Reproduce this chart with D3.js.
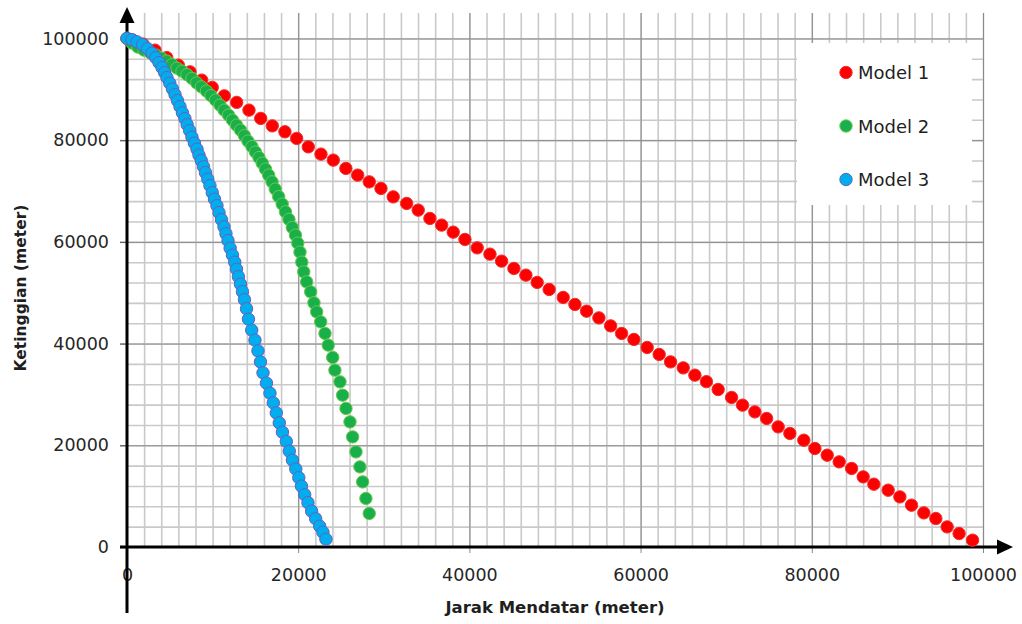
<!DOCTYPE html>
<html>
<head>
<meta charset="utf-8">
<script src="https://cdn.jsdelivr.net/npm/d3@7"></script>
<style>
	body { margin: 0; background: #fff; }
	svg text { font-family: "DejaVu Sans", sans-serif; }
</style>
</head>
<body>
<div id="chart"></div>
<script>
//series names and values (meter)
var seriesNames = ["Model 1", "Model 2", "Model 3"];

var model1X = [0, 700, 1870, 3270, 4640, 5990, 7360, 8730, 9960, 11360,
	12810, 14250, 15620, 16970, 18450, 19820, 21180, 22660, 24100, 25570,
	26950, 28300, 29670, 31100, 32670, 34020, 35390, 36760, 38110, 39480,
	40910, 42400, 43760, 45200, 46600, 47920, 49320, 50960, 52330, 53690,
	55130, 56500, 57780, 59220, 60770, 62170, 63500, 64980, 66340, 67690,
	69060, 70630, 71910, 73350, 74720, 76070, 77440, 79070, 80360, 81800,
	83200, 84650, 86000, 87250, 88920, 90290, 91650, 93090, 94490, 95810,
	97210, 98780];
var model1Y = [100000, 99600, 98880, 97700, 96230, 94750, 93430, 91800, 90370, 88710,
	87420, 85900, 84270, 82810, 81640, 80340, 78680, 77250, 76070, 74440,
	73120, 71800, 70500, 68850, 67550, 66240, 64600, 63290, 61910, 60470,
	58820, 57580, 56210, 54770, 53450, 52020, 50640, 49070, 47690, 46370,
	45050, 43480, 41990, 40810, 39230, 37860, 36400, 35220, 33790, 32510,
	30970, 29400, 27890, 26570, 25270, 23620, 22320, 21000, 19370, 18050,
	16740, 15440, 13790, 12350, 11170, 9850, 8220, 6710, 5600, 3950,
	2650, 1340];

var model2X = [0, 580, 1290, 1990, 2690, 3390, 4030, 4640, 5260, 5840,
	6420, 7010, 7590, 8140, 8700, 9290, 9810, 10340, 10860, 11350,
	11860, 12320, 12790, 13260, 13720, 14130, 14600, 15010, 15420, 15800,
	16180, 16550, 16940, 17320, 17720, 18130, 18510, 18920, 19310, 19680,
	19950, 20210, 20420, 20650, 20990, 21460, 21840, 22160, 22630, 23130,
	23510, 24030, 24290, 24880, 25190, 25580, 26050, 26360, 26750, 27210,
	27530, 27910, 28300];
var model2Y = [100000, 99100, 98290, 97700, 97210, 96720, 96130, 95540, 94850, 94160,
	93570, 92880, 92140, 91270, 90480, 89640, 88760, 87870, 86890, 85900,
	84920, 83940, 82950, 81970, 80890, 79810, 78720, 77640, 76560, 75480,
	74300, 73120, 71800, 70370, 68890, 67420, 65900, 64410, 62830, 61320,
	59750, 57980, 56010, 54100, 52130, 50170, 48010, 46230, 44270, 41990,
	39690, 37270, 34770, 32470, 29850, 27240, 24600, 21650, 18700, 15750,
	12800, 9540, 6590];

var model3X = [0, 580, 1170, 1810, 2390, 2920, 3350, 3740, 4090, 4400,
	4670, 5000, 5310, 5610, 5900, 6190, 6480, 6770, 7030, 7320,
	7590, 7880, 8180, 8410, 8680, 8940, 9170, 9440, 9690, 9960,
	10220, 10510, 10750, 11040, 11330, 11560, 11800, 12050, 12320, 12590,
	12790, 13020, 13260, 13490, 13720, 13960, 14190, 14570, 14950, 15300,
	15590, 15890, 16290, 16700, 17090, 17440, 17790, 18160, 18610, 18960,
	19330, 19720, 20070, 20380, 20760, 21140, 21570, 22040, 22510, 22890,
	23240];
var model3Y = [100000, 99770, 99330, 98780, 98000, 97110, 96230, 95240, 94260, 93280,
	92290, 91210, 90070, 88950, 87770, 86590, 85370, 84230, 83050, 81870,
	80590, 79410, 78230, 77050, 75970, 74790, 73610, 72330, 71050, 69680,
	68400, 67120, 65740, 64370, 62950, 61610, 60240, 58760, 57390, 56010,
	54630, 53160, 51680, 50210, 48640, 46860, 44800, 42640, 40670, 38570,
	36400, 34240, 32210, 30250, 28340, 26370, 24410, 22580, 20750, 18840,
	17070, 15340, 13630, 11960, 10290, 8710, 7040, 5570, 4090, 2910,
	1530];

var xTicks = [0, 20000, 40000, 60000, 80000, 100000];
var yTicks = [0, 20000, 40000, 60000, 80000, 100000];
var xTitle = "Jarak Mendatar (meter)";
var yTitle = "Ketinggian (meter)";

//define dimensions
var width = 1022, height = 624;
var margin = {top: 13, right: 39, bottom: 77, left: 127};
var plotW = width - margin.left - margin.right;
var plotH = height - margin.top - margin.bottom;

var colors = [
	{fill: "#ff0000", stroke: "#f03030"},
	{fill: "#19b04b", stroke: "#6cc84a"},
	{fill: "#00aeef", stroke: "#6a5fb8"}
];

var series = [
	{name: seriesNames[0], xs: model1X, ys: model1Y},
	{name: seriesNames[1], xs: model2X, ys: model2Y},
	{name: seriesNames[2], xs: model3X, ys: model3Y}
];

var svg = d3.select("#chart").append("svg")
	.attr("width", width)
	.attr("height", height);

var x = d3.scaleLinear().domain([0, 100000]).range([margin.left, margin.left + plotW]);
var y = d3.scaleLinear().domain([0, 105000]).range([margin.top + plotH, margin.top]);

//gridlines: minor first, then major
function grid(axis, cls, color, w) {
	var g = svg.append("g").attr("class", cls);
	g.call(axis);
	g.select(".domain").remove();
	g.selectAll("line").attr("stroke", color).attr("stroke-width", w);
	return g;
}

grid(d3.axisBottom(x).tickValues(d3.range(2000, 100001, 2000)).tickSize(-plotH).tickFormat(""),
	"grid-x-minor", "#c9c9c9", 1.6)
	.attr("transform", "translate(0," + y(0) + ")");
grid(d3.axisLeft(y).tickValues(d3.range(4000, 100001, 4000)).tickSize(-plotW).tickFormat(""),
	"grid-y-minor", "#c9c9c9", 1.6)
	.attr("transform", "translate(" + x(0) + ",0)");
grid(d3.axisBottom(x).tickValues(xTicks.slice(1)).tickSize(-plotH).tickFormat(""),
	"grid-x-major", "#8a8a8a", 1)
	.attr("transform", "translate(0," + y(0) + ")");
grid(d3.axisLeft(y).tickValues(yTicks.slice(1)).tickSize(-plotW).tickFormat(""),
	"grid-y-major", "#8a8a8a", 1)
	.attr("transform", "translate(" + x(0) + ",0)");

//tick labels and small tick marks
var yAxis = svg.append("g")
	.attr("transform", "translate(" + x(0) + ",0)")
	.call(d3.axisLeft(y).tickValues(yTicks).tickSize(7).tickPadding(11).tickFormat(d3.format("d")));
yAxis.select(".domain").remove();
yAxis.selectAll("line").attr("stroke", "#666").attr("stroke-width", 1.5);
yAxis.selectAll("text").attr("font-family", "DejaVu Sans").attr("font-size", 17.5).attr("fill", "#262626");

var xAxis = svg.append("g")
	.attr("transform", "translate(0," + y(0) + ")")
	.call(d3.axisBottom(x).tickValues(xTicks).tickSize(6).tickPadding(16).tickFormat(d3.format("d")));
xAxis.select(".domain").remove();
xAxis.selectAll("line").attr("stroke", "#888").attr("stroke-width", 1);
xAxis.selectAll("text").attr("font-family", "DejaVu Sans").attr("font-size", 17.5).attr("fill", "#262626");

//legend box covers the grid
var legend = svg.append("g").attr("class", "legend");
legend.append("rect")
	.attr("x", 797).attr("y", 43)
	.attr("width", 175).attr("height", 162)
	.attr("fill", "#fff");

//axis lines with arrows
svg.append("line")
	.attr("x1", x(0)).attr("x2", x(0))
	.attr("y1", y(0) + 66).attr("y2", 20)
	.attr("stroke", "#000").attr("stroke-width", 3);
svg.append("line")
	.attr("x1", x(0) - 7).attr("x2", 1000)
	.attr("y1", y(0)).attr("y2", y(0))
	.attr("stroke", "#000").attr("stroke-width", 3);
svg.append("path")
	.attr("d", "M" + x(0) + ",7L" + (x(0) + 7.5) + ",23L" + (x(0) - 7.5) + ",23Z")
	.attr("fill", "#000");
svg.append("path")
	.attr("d", "M1013," + y(0) + "L997," + (y(0) - 7.5) + "L997," + (y(0) + 7.5) + "Z")
	.attr("fill", "#000");

//markers
series.forEach(function(s, i) {
	var pts = s.xs.map(function(d, j) { return [d, s.ys[j]]; });
	svg.append("g").attr("class", "series-" + i)
		.selectAll("circle")
		.data(pts)
		.enter().append("circle")
		.attr("cx", function(d) { return x(d[0]); })
		.attr("cy", function(d) { return y(d[1]); })
		.attr("r", 6.2)
		.attr("fill", colors[i].fill)
		.attr("stroke", colors[i].stroke)
		.attr("stroke-width", 1);
});

//legend entries
var rows = legend.selectAll("g.row")
	.data(series)
	.enter().append("g")
	.attr("class", "row")
	.attr("transform", function(d, i) { return "translate(846," + (72.5 + i * 53.5) + ")"; });
rows.append("circle")
	.attr("r", 6.2)
	.attr("fill", function(d, i) { return colors[i].fill; })
	.attr("stroke", function(d, i) { return colors[i].stroke; });
rows.append("text")
	.attr("x", 12)
	.attr("y", 6.6)
	.attr("font-size", 18)
	.attr("fill", "#1f1f1f")
	.text(function(d) { return d.name; });

//axis titles
svg.append("text")
	.attr("x", 555).attr("y", 613)
	.attr("text-anchor", "middle")
	.attr("font-size", 16.5)
	.attr("font-weight", "bold")
	.attr("fill", "#1f1f1f")
	.text(xTitle);
svg.append("text")
	.attr("transform", "translate(26,288) rotate(-90)")
	.attr("text-anchor", "middle")
	.attr("font-size", 15.5)
	.attr("font-weight", "bold")
	.attr("fill", "#1f1f1f")
	.text(yTitle);
</script>
</body>
</html>
